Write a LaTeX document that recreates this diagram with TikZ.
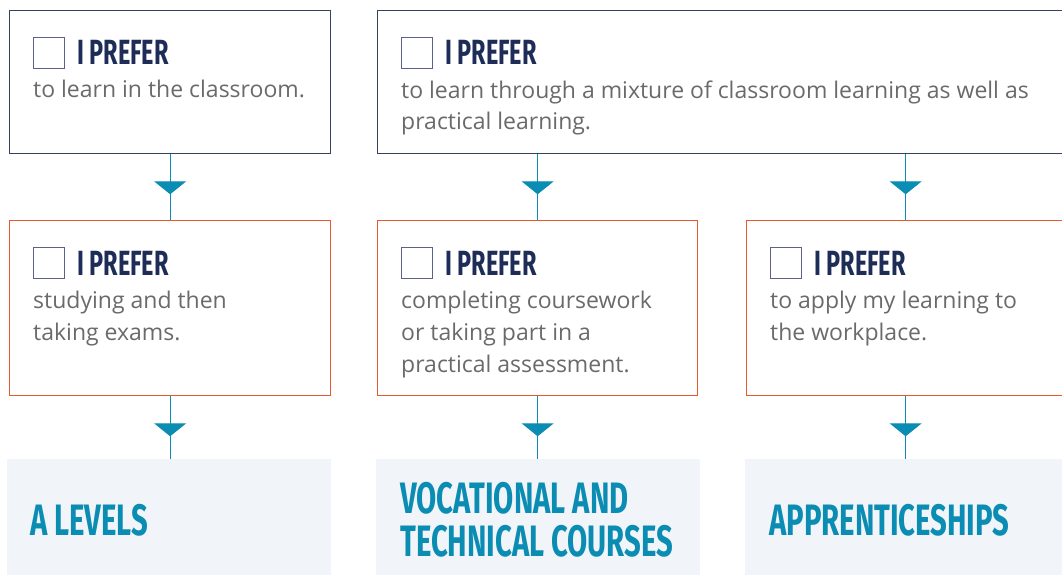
\documentclass[tikz,border=0pt]{standalone}
\usepackage{fontspec}
\setmainfont{Open Sans}
\newfontfamily\headfont[FakeStretch=0.67]{Fira Sans}
\newfontfamily\titlefont[FakeStretch=0.665]{Fira Sans}
\usepackage{tikz}
\usetikzlibrary{arrows.meta, positioning, calc, decorations.markings}

\definecolor{navy}{HTML}{1D2D57}
\definecolor{navyline}{HTML}{34425F}
\definecolor{boxgrey}{HTML}{5D6189}
\definecolor{orangeline}{HTML}{E9572B}
\definecolor{teal}{HTML}{0B8DB3}
\definecolor{paleblue}{HTML}{F1F5F9}
\definecolor{bodygrey}{HTML}{6A6A6A}

\tikzset{
  topbox/.style={draw=navyline, line width=1.3pt, inner sep=0pt, anchor=north west},
  midbox/.style={draw=orangeline, line width=1.3pt, inner sep=0pt, anchor=north west},
  endbox/.style={fill=paleblue, inner sep=0pt, anchor=north west},
  tickbox/.style={draw=boxgrey, line width=1.1pt, minimum size=31pt, inner sep=0pt, anchor=north west},
  prefer/.style={text=navy, font=\headfont\bfseries\fontsize{35}{35}\selectfont, inner sep=0pt, anchor=base west},
  body/.style={text=bodygrey, font=\fontsize{23}{32}\selectfont, align=left, inner sep=0pt, anchor=base west},
  route/.style={text=teal, font=\titlefont\bfseries\fontsize{44}{43}\selectfont, align=left, inner sep=0pt, anchor=base west},
  flow/.style={draw=teal, line width=1.3pt, postaction={decorate},
    decoration={markings, mark=at position 40pt with {\arrow[teal]{Triangle[width=32pt, length=13pt]}}}}
}

\begin{document}
\begin{tikzpicture}[x=1pt, y=-1pt, >=Latex]
  \useasboundingbox (0,0) rectangle (1062,575);
  \clip (0,0) rectangle (1062,575);

  % first row
  \node[topbox, minimum width=321pt, minimum height=143pt] (top1) at (9,10) {};
  \node[topbox, minimum width=700pt, minimum height=143pt] (top2) at (377,10) {};

  % second row
  \node[midbox, minimum width=321pt, minimum height=175pt] (mid1) at (9,220) {};
  \node[midbox, minimum width=320pt, minimum height=175pt] (mid2) at (377,220) {};
  \node[midbox, minimum width=318pt, minimum height=175pt] (mid3) at (746,220) {};

  % routes
  \node[endbox, minimum width=324pt, minimum height=130pt] (end1) at (7,459) {};
  \node[endbox, minimum width=324pt, minimum height=130pt] (end2) at (376,459) {};
  \node[endbox, minimum width=325pt, minimum height=130pt] (end3) at (745,459) {};

  % box contents (base of a text is its last line)
  \foreach \b/\n/\txt in {top1/1/{to learn in the classroom.},
      top2/2/{to learn through a mixture of classroom learning as well as\\practical learning.},
      mid1/2/{studying and then\\taking exams.},
      mid2/3/{completing coursework\\or taking part in a\\practical assessment.},
      mid3/2/{to apply my learning to\\the workplace.}} {
    \node[tickbox] (\b-tick) at ($(\b.north west)+(24,27)$) {};
    \node[prefer] (\b-head) at ($(\b.north west)+(68,55)$) {I PREFER};
    \node[body] (\b-text) at ($(\b.north west)+(24,{56+32*\n})$) {\txt};
  }

  \node[route] (end1-text) at ($(end1.north west)+(23,76)$) {A LEVELS};
  \node[route] (end2-text) at ($(end2.north west)+(24,97)$) {VOCATIONAL AND\\TECHNICAL COURSES};
  \node[route] (end3-text) at ($(end3.north west)+(24,76)$) {APPRENTICESHIPS};

  % connectors
  \draw[flow] (top1.south) -- (mid1.north);
  \draw[flow] (mid2.north |- top2.south) -- (mid2.north);
  \draw[flow] (mid3.north |- top2.south) -- (mid3.north);
  \draw[flow] (mid1.south) -- (mid1.south |- end1.north);
  \draw[flow] (mid2.south) -- (mid2.south |- end2.north);
  \draw[flow] (mid3.south) -- (mid3.south |- end3.north);
\end{tikzpicture}
\end{document}
